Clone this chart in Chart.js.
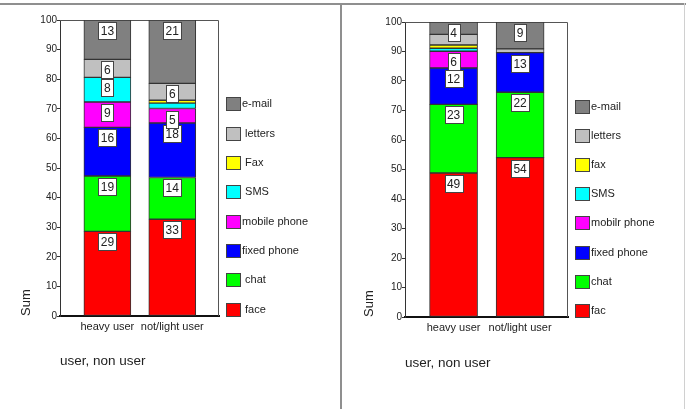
<!DOCTYPE html>
<html>
<head>
<meta charset="utf-8">
<script src="https://cdn.jsdelivr.net/npm/chart.js@4.4.0/dist/chart.umd.min.js"></script>
<style>
body { margin: 0; background: #fff; }
#wrap { position: relative; width: 686px; height: 409px; overflow: hidden; }
canvas { position: absolute; top: 0; }
.line { position: absolute; background: #8f8f8f; }
</style>
</head>
<body>
<div id="wrap">
  <canvas id="left" width="343" height="409" style="left:0"></canvas>
  <canvas id="right" width="343" height="409" style="left:343px"></canvas>
  <div class="line" style="left:0;top:3px;width:686px;height:2px"></div>
  <div class="line" style="left:340px;top:3px;width:2px;height:406px"></div>
  <div class="line" style="left:684px;top:3px;width:1px;height:406px;background:#d0d0d0"></div>
</div>
<script>
// categories and series, bottom segment first
const categories = ['heavy user', 'not/light user'];
const seriesColors = ['#ff0000', '#00ff00', '#0000ff', '#ff00ff', '#00ffff', '#ffff00', '#c0c0c0', '#808080'];

const leftNames = [' face', ' chat', 'fixed phone', 'mobile phone', ' SMS', ' Fax', ' letters', 'e-mail'];
const leftHeavy = [28.6, 18.7, 16.4, 8.6, 8.3, 0, 6.1, 13.3];
const leftLight = [32.7, 14.1, 18.4, 4.9, 1.8, 1.0, 5.7, 21.4];

const rightNames = ['fac', 'chat', 'fixed phone', 'mobilr phone', 'SMS', 'fax', 'letters', 'e-mail'];
const rightHeavy = [48.8, 23.3, 12.3, 5.7, 1.0, 1.1, 3.6, 4.2];
const rightLight = [54.0, 22.2, 13.4, 0, 0, 0, 1.3, 9.1];

Chart.defaults.font.family = '"Liberation Sans", Arial, sans-serif';
Chart.defaults.color = '#222';

// thin box round the plot area (left/bottom come from the axis borders)
const plotFrame = {
    id: 'plotFrame',
    beforeDatasetsDraw(chart) {
        const { ctx, chartArea: a } = chart;
        ctx.save();
        ctx.strokeStyle = '#555';
        ctx.lineWidth = 1;
        ctx.beginPath();
        ctx.moveTo(Math.round(a.left), Math.round(a.top) + 0.5);
        ctx.lineTo(Math.round(a.right) - 0.5, Math.round(a.top) + 0.5);
        ctx.lineTo(Math.round(a.right) - 0.5, Math.round(a.bottom));
        ctx.stroke();
        ctx.restore();
    }
};

// white number boxes near the top of each big enough segment
const segmentLabels = {
    id: 'segmentLabels',
    afterDatasetsDraw(chart) {
        const ctx = chart.ctx;
        ctx.save();
        ctx.font = '12px "Liberation Sans", Arial, sans-serif';
        ctx.textAlign = 'center';
        ctx.textBaseline = 'middle';
        chart.data.datasets.forEach((ds, di) => {
            chart.getDatasetMeta(di).data.forEach((bar, i) => {
                const v = ds.data[i].y;
                if (v < 4) return;
                const txt = String(Math.round(v));
                const w = Math.round(ctx.measureText(txt).width + 5);
                const x0 = Math.round(bar.x - w / 2) + 0.5;
                const y0 = Math.round(bar.y) + 2.5;
                ctx.fillStyle = '#fff';
                ctx.fillRect(x0, y0, w, 17);
                ctx.strokeStyle = '#444';
                ctx.lineWidth = 1;
                ctx.strokeRect(x0, y0, w, 17);
                ctx.fillStyle = '#222';
                ctx.fillText(txt, bar.x, y0 + 9);
            });
        });
        ctx.restore();
    }
};

// legend column on the right, top entry = top segment
const sideLegend = {
    id: 'sideLegend',
    afterDraw(chart, args, opts) {
        const { ctx, chartArea } = chart;
        const x = Math.round(chartArea.right) + 7;
        ctx.save();
        ctx.font = '11px "Liberation Sans", Arial, sans-serif';
        ctx.textAlign = 'left';
        ctx.textBaseline = 'middle';
        chart.data.datasets.slice().reverse().forEach((ds, k) => {
            const cy = Math.round(opts.top + k * opts.step);
            ctx.fillStyle = ds.backgroundColor;
            ctx.fillRect(x, cy - 7, 15, 14);
            ctx.strokeStyle = '#444';
            ctx.lineWidth = 1;
            ctx.strokeRect(x + 0.5, cy - 6.5, 14, 13);
            ctx.fillStyle = '#222';
            ctx.fillText(ds.label, x + 16, cy);
        });
        ctx.restore();
    }
};

function makeChart(id, names, heavy, light, g) {
    const datasets = names.map((n, k) => ({
        label: n,
        data: [{ x: 1, y: heavy[k] }, { x: 2, y: light[k] }],
        backgroundColor: seriesColors[k],
        borderColor: '#333',
        borderWidth: 1,
        borderSkipped: false,
        barThickness: g.bar
    }));

    return new Chart(document.getElementById(id), {
        type: 'bar',
        data: { datasets },
        plugins: [plotFrame, segmentLabels, sideLegend],
        options: {
            responsive: false,
            animation: false,
            layout: { padding: { top: g.top, right: g.right, left: 0, bottom: 0 } },
            plugins: {
                legend: { display: false },
                tooltip: { enabled: false },
                sideLegend: { top: g.legendTop, step: g.legendStep }
            },
            scales: {
                x: {
                    type: 'linear',
                    stacked: true,
                    offset: false,
                    min: 0.27,
                    max: 2.72,
                    afterBuildTicks: s => { s.ticks = categories.map((c, i) => ({ value: i + 1 })); },
                    afterFit: s => { s.height = g.xh; },
                    grid: { display: false, drawTicks: false, tickLength: 0, offset: false },
                    border: { display: true, color: '#111', width: 2 },
                    ticks: {
                        color: '#222', font: { size: 11 }, padding: 4,
                        maxRotation: 0, autoSkip: false,
                        callback: v => categories[v - 1]
                    },
                    title: {
                        display: true, text: 'user, non user', align: 'start',
                        color: '#222', font: { size: 13.5 },
                        padding: { top: 0, bottom: g.xtb }
                    }
                },
                y: {
                    stacked: true,
                    min: 0,
                    max: 100,
                    afterFit: s => { s.width = g.yw; },
                    ticks: { stepSize: 10, color: '#222', font: { size: 10 }, padding: 0 },
                    grid: { drawOnChartArea: false, drawTicks: true, tickLength: 3, color: '#333' },
                    border: { display: true, color: '#333', width: 1 },
                    title: {
                        display: true, text: 'Sum', align: 'start',
                        color: '#222', font: { size: 13 },
                        padding: { top: 19, bottom: 0 }
                    }
                }
            }
        }
    });
}

makeChart('left', leftNames, leftHeavy, leftLight,
    { top: 20, right: 124, xh: 93, yw: 60, bar: 47, xtb: 40, legendTop: 104.3, legendStep: 29.34 });
makeChart('right', rightNames, rightHeavy, rightLight,
    { top: 22, right: 118, xh: 92, yw: 62, bar: 48, xtb: 38, legendTop: 107, legendStep: 29.1 });
</script>
</body>
</html>
